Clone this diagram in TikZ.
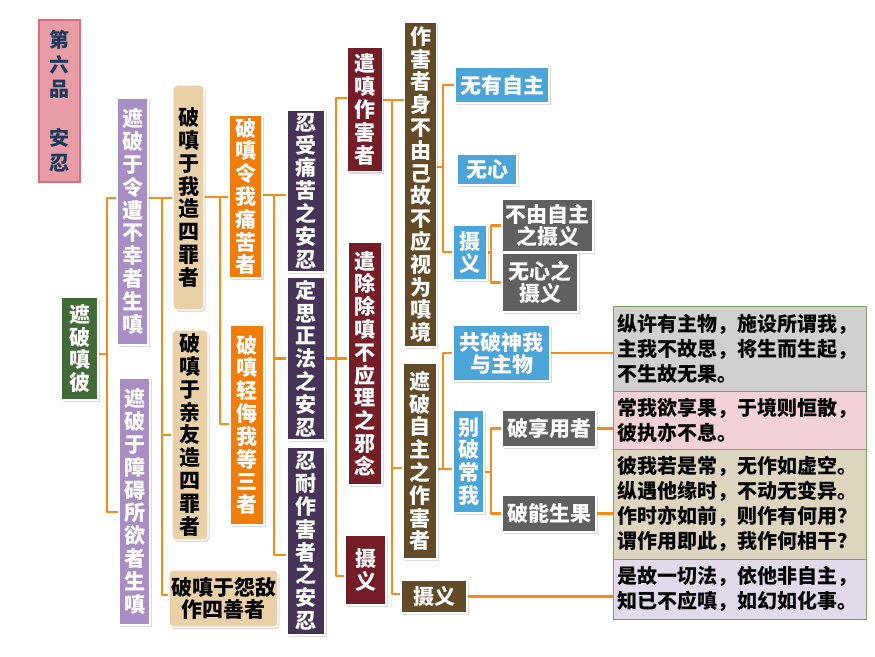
\documentclass[tikz,border=0pt]{standalone}
\usepackage{fontspec}
\newfontfamily\cjk{Noto Sans CJK SC}
\usetikzlibrary{shadows,calc}
\definecolor{cTitle}{HTML}{E89CA6}
\definecolor{cTitleB}{HTML}{D96F7E}
\definecolor{cTitleT}{HTML}{1B3A5C}
\definecolor{cGreen}{HTML}{426B37}
\definecolor{cLav}{HTML}{A98EC3}
\definecolor{cTan}{HTML}{E9D0A6}
\definecolor{cOrange}{HTML}{F07C0A}
\definecolor{cDPurple}{HTML}{453457}
\definecolor{cMaroon}{HTML}{741C28}
\definecolor{cBrown}{HTML}{634B27}
\definecolor{cBlue}{HTML}{4CA5D8}
\definecolor{cGray}{HTML}{606060}
\definecolor{cLine}{HTML}{F38C18}
\definecolor{rA}{HTML}{D0D0D0}
\definecolor{rB}{HTML}{F2D2D6}
\definecolor{rC}{HTML}{DDD5C0}
\definecolor{rD}{HTML}{E2DAEA}
\definecolor{rBorder}{HTML}{7DA35E}
\pgfdeclarelayer{bg}
\pgfsetlayers{bg,main}
\begin{document}
\begin{tikzpicture}[x=1pt,y=-1pt,
  bx/.style={draw=white, line width=1.2pt, inner sep=0pt, align=center, text=white,
    drop shadow={shadow xshift=1.5pt, shadow yshift=-2pt, opacity=0.28}},
  vb/.style={bx, font=\cjk\bfseries\fontsize{21}{22.8}\selectfont},
  hb/.style={bx, font=\cjk\bfseries\fontsize{21}{22}\selectfont},
  tanbox/.style={fill=cTan, text=black, rounded corners=4pt},
  rbox/.style={draw=rBorder, line width=1pt, inner xsep=4.5pt, inner ysep=0pt, text width=244pt,
    align=left, font=\cjk\bfseries\fontsize{20}{25}\selectfont, text=black, minimum width=253pt},
  conn/.style={draw=cLine, line width=2.8pt, line join=round}
]
\useasboundingbox (0,0) rectangle (875,656);

% title
\node[draw=cTitleB, fill=cTitle, line width=1.5pt, minimum width=41pt, minimum height=162pt,
  text=cTitleT, font=\cjk\bfseries\fontsize{20}{24.5}\selectfont, align=center, inner sep=0pt]
  (title) at (59.5,101) {第\\六\\品\\\mbox{}\\安\\忍};

% root
\node[vb, fill=cGreen, minimum width=37pt, minimum height=103pt] (root) at (79.5,348.5) {遮\\破\\嗔\\彼};

% level 1
\node[vb, fill=cLav, minimum width=31pt, minimum height=247pt] (p1) at (132.5,221.5) {遮\\破\\于\\令\\遭\\不\\幸\\者\\生\\嗔};
\node[vb, fill=cLav, minimum width=31pt, minimum height=247pt] (p2) at (134.5,501.5) {遮\\破\\于\\障\\碍\\所\\欲\\者\\生\\嗔};

% level 2
\node[vb, tanbox, minimum width=31pt, minimum height=225pt] (t1) at (188.5,197.5) {破\\嗔\\于\\我\\造\\四\\罪\\者};
\node[vb, tanbox, minimum width=36pt, minimum height=210pt] (t2) at (190,435) {破\\嗔\\于\\亲\\友\\造\\四\\罪\\者};
\node[hb, tanbox, minimum width=109pt, minimum height=57pt] (t3) at (223.5,598.5) {破嗔于怨敌\\作四善者};

% level 3
\node[vb, fill=cOrange, minimum width=33pt, minimum height=163pt] (o1) at (245.5,196.5) {破\\嗔\\令\\我\\痛\\苦\\者};
\node[vb, fill=cOrange, minimum width=34pt, minimum height=200pt] (o2) at (247,425) {破\\嗔\\轻\\侮\\我\\等\\三\\者};

% level 4
\node[vb, fill=cDPurple, minimum width=38pt, minimum height=162pt] (d1) at (306,191) {忍\\受\\痛\\苦\\之\\安\\忍};
\node[vb, fill=cDPurple, minimum width=38pt, minimum height=163pt] (d2) at (306,358.5) {定\\思\\正\\法\\之\\安\\忍};
\node[vb, fill=cDPurple, minimum width=38pt, minimum height=188pt] (d3) at (306,541) {忍\\耐\\作\\害\\者\\之\\安\\忍};

% level 5
\node[vb, fill=cMaroon, minimum width=35pt, minimum height=124pt] (m1) at (365,109.5) {遣\\嗔\\作\\害\\者};
\node[vb, fill=cMaroon, minimum width=34pt, minimum height=243pt] (m2) at (365,363.5) {遣\\除\\除\\嗔\\不\\应\\理\\之\\邪\\念};
\node[vb, fill=cMaroon, minimum width=41pt, minimum height=70pt] (m3) at (365.5,570) {摄\\义};

% level 6
\node[vb, fill=cBrown, minimum width=32pt, minimum height=325pt] (b1) at (420.5,184.5) {作\\害\\者\\身\\不\\由\\己\\故\\不\\应\\视\\为\\嗔\\境};
\node[vb, fill=cBrown, minimum width=34pt, minimum height=196pt] (b2) at (420,461) {遮\\破\\自\\主\\之\\作\\害\\者};
\node[hb, fill=cBrown, minimum width=66pt, minimum height=33pt] (b3) at (434,596.5) {摄义};

% level 7
\node[hb, fill=cBlue, minimum width=94pt, minimum height=36pt] (u1) at (502,85) {无有自主};
\node[hb, fill=cBlue, minimum width=60pt, minimum height=31pt] (u2) at (487,169.5) {无心};
\node[vb, fill=cBlue, minimum width=34pt, minimum height=55pt] (u3) at (470,252.5) {摄\\义};
\node[hb, fill=cBlue, minimum width=97pt, minimum height=56pt] (u4) at (501.5,353) {共破神我\\与主物};
\node[vb, fill=cBlue, minimum width=31pt, minimum height=103pt] (u5) at (468.5,461.5) {别\\破\\常\\我};

% level 8
\node[hb, fill=cGray, minimum width=91pt, minimum height=53pt] (g1) at (547.5,225.5) {不由自主\\之摄义};
\node[hb, fill=cGray, minimum width=76pt, minimum height=59pt] (g2) at (540,282.5) {无心之\\摄义};
\node[hb, fill=cGray, minimum width=94pt, minimum height=37pt] (g3) at (549,428.5) {破享用者};
\node[hb, fill=cGray, minimum width=94pt, minimum height=37pt] (g4) at (549,513.5) {破能生果};

% right text boxes
\node[rbox, fill=rA, minimum height=85pt] (r1) at (739.5,348.5) {纵许有主物，施设所谓我，\\主我不故思，将生而生起，\\不生故无果。};
\node[rbox, fill=rB, minimum height=58pt] (r2) at (739.5,420) {常我欲享果，于境则恒散，\\彼执亦不息。};
\node[rbox, fill=rC, minimum height=110pt] (r3) at (739.5,504) {彼我若是常，无作如虚空。\\纵遇他缘时，不动无变异。\\作时亦如前，则作有何用？\\谓作用即此，我作何相干？};
\node[rbox, fill=rD, minimum height=60pt] (r4) at (739.5,589) {是故一切法，依他非自主，\\知已不应嗔，如幻如化事。};

% connectors
\begin{pgfonlayer}{bg}
\fill[white] (0,0) rectangle (875,656);
\coordinate (A1) at (107,198); \coordinate (A2) at (107,512); \coordinate (A3) at (107,354);
\draw[conn] (A1 -| p1.west) -- (A1) -- (A2) -- (A2 -| p2.west);
\draw[conn] (A3 -| root.east) -- (A3);

\coordinate (B1) at (162,198); \coordinate (B2) at (162,595);
\draw[conn] (B1 -| p1.east) -- (B1 -| t1.west);
\draw[conn] (B1) -- (B2) -- (B2 -| t3.west);
\draw[conn] (t2.west -| B1) -- (t2.west);

\coordinate (C1) at (220,197); \coordinate (C2) at (220,424);
\draw[conn] (C1 -| t1.east) -- (C1 -| o1.west);
\draw[conn] (C1) -- (C2) -- (C2 -| o2.west);

\coordinate (D1) at (274,195); \coordinate (D2) at (274,555);
\draw[conn] (D1 -| o1.east) -- (D1 -| d1.west);
\draw[conn] (D1) -- (D2) -- (D2 -| d3.west);
\draw[conn] (d2.west -| D1) -- (d2.west);

\coordinate (E1) at (336,98); \coordinate (E2) at (336,576);
\draw[conn] (E1 -| m1.west) -- (E1) -- (E2) -- (E2 -| m3.west);
\draw[conn] (d2.east) -- (d2.east -| m2.west);

\coordinate (F1) at (392,100); \coordinate (F2) at (392,594); \coordinate (F3) at (392,468);
\draw[conn] (F1 -| m1.east) -- (F1 -| b1.west);
\draw[conn] (F1) -- (F2) -- (F2 -| b3.west);
\draw[conn] (F3) -- (F3 -| b2.west);

\coordinate (G1) at (443,85); \coordinate (G2) at (443,252); \coordinate (G3) at (443,167);
\draw[conn] (u1.west) -- (u1.west -| G1) -- (G2) -- (G2 -| u3.west);
\draw[conn] (G3 -| b1.east) -- (G3);

\coordinate (H1) at (443,353); \coordinate (H2) at (443,469);
\draw[conn] (u4.west) -- (u4.west -| H1) -- (H2) -- (H2 -| u5.west);
\draw[conn] (H2 -| b2.east) -- (H2);

\coordinate (I1) at (491,226);
\draw[conn] (g1.west) -- (g1.west -| I1) -- (g2.west -| I1) -- (g2.west);
\draw[conn] (u3.east) -- (u3.east -| I1);

\coordinate (J1) at (491,472);
\draw[conn] (g3.west) -- (g3.west -| J1) -- (g4.west -| J1) -- (g4.west);
\draw[conn] (J1 -| u5.east) -- (J1);

\draw[conn] (u4.east) -- (u4.east -| r1.west);
\draw[conn] (g3.east) -- (g3.east -| r2.west);
\draw[conn] (g4.east) -- (g4.east -| r3.west);
\draw[conn] (b3.east) -- (b3.east -| r4.west);
\end{pgfonlayer}
\end{tikzpicture}
\end{document}
